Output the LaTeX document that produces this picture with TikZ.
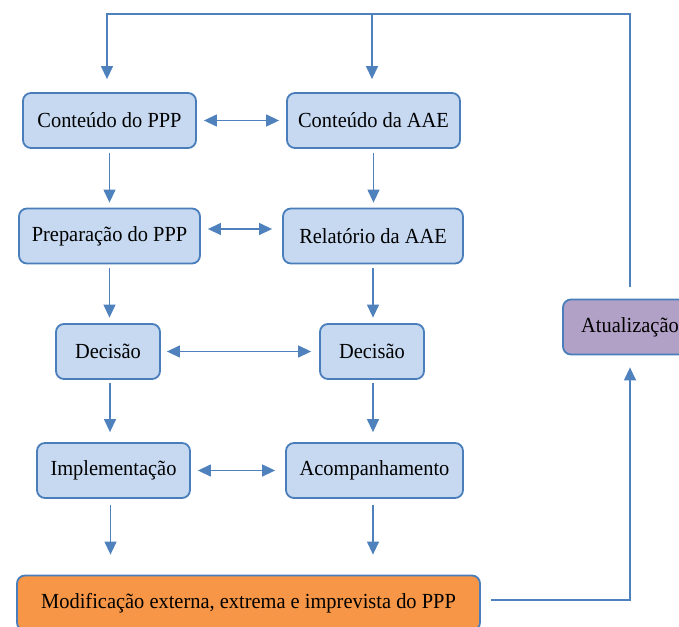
\documentclass[tikz,border=0pt]{standalone}
\usepackage{fontspec}
\setmainfont[FakeStretch=0.95]{Liberation Serif}
\usetikzlibrary{arrows.meta}

\definecolor{boxblue}{HTML}{C6D9F1}
\definecolor{edgeblue}{HTML}{4A7EBB}
\definecolor{arrowblue}{HTML}{4F81BD}
\definecolor{lilac}{HTML}{B2A1C7}
\definecolor{orangefill}{HTML}{F79646}

\tikzset{
  box/.style={draw=edgeblue, line width=1.8pt, rounded corners=8pt, fill=boxblue,
    minimum height=55pt, inner sep=0pt, font=\fontsize{21.5}{24}\selectfont},
  tip/.tip={Triangle[length=13pt,width=12pt]},
  link/.style={draw=arrowblue, line width=1.3pt},
  arr/.style={link, -tip},
  dbl/.style={link, tip-tip},
}

\begin{document}
\begin{tikzpicture}[x=1pt,y=1pt]
\useasboundingbox (0,0) rectangle (679,-626);
\clip (0,0) rectangle (679,-626);

% left column: project plan (PPP)
\node[box, minimum width=173pt] (c1) at (109.5,-120.5) {Conteúdo do PPP};
\node[box, minimum width=181pt] (p1) at (109.5,-236) {Preparação do PPP};
\node[box, minimum width=104pt] (d1) at (108,-351.5) {Decisão};
\node[box, minimum width=153pt] (i1) at (113.5,-470.5) {Implementação};

% right column: environmental assessment (AAE)
\node[box, minimum width=173pt] (c2) at (373.5,-120.5) {Conteúdo da AAE};
\node[box, minimum width=180pt] (p2) at (373,-236) {Relatório da AAE};
\node[box, minimum width=104pt] (d2) at (372,-351.5) {Decisão};
\node[box, minimum width=177pt] (i2) at (374.5,-470.5) {Acompanhamento};

% external change and update
\node[box, fill=orangefill, minimum width=463pt] (m) at (248.5,-603)
  {Modificação externa, extrema e imprevista do PPP};
\node[box, fill=lilac, minimum width=134pt] (a) at (630,-327) {Atualização};

% vertical flow, left column
\draw[arr] ([yshift=-4pt]c1.south) -- ([yshift=5pt]c1.south |- p1.north);
\draw[arr] ([yshift=-4pt]p1.south) -- ([yshift=5.5pt]p1.south |- d1.north);
\draw[arr] ([xshift=2pt,yshift=-3.5pt]d1.south) -- ([xshift=2pt,yshift=10pt]d1.south |- i1.north);
\draw[arr] ([xshift=-3pt,yshift=-6pt]i1.south) -- ([xshift=-3pt,yshift=20pt]i1.south |- m.north);

% vertical flow, right column
\draw[arr] ([yshift=-4pt]c2.south) -- ([yshift=5pt]c2.south |- p2.north);
\draw[arr] ([yshift=-4pt]p2.south) -- ([yshift=5.5pt]p2.south |- d2.north);
\draw[arr] ([xshift=1pt,yshift=-3.5pt]d2.south) -- ([xshift=1pt,yshift=10pt]d2.south |- i2.north);
\draw[arr] ([xshift=-1.5pt,yshift=-6pt]i2.south) -- ([xshift=-1.5pt,yshift=20pt]i2.south |- m.north);

% two-way links between the columns
\draw[dbl] ([xshift=7pt]c1.east) -- ([xshift=-7pt]c2.west);
\draw[dbl] ([xshift=7pt,yshift=7pt]p1.east) -- ([xshift=-10pt,yshift=7pt]p2.west);
\draw[dbl] ([xshift=6pt]d1.east) -- ([xshift=-8pt]d2.west);
\draw[dbl] ([xshift=7pt]i1.east) -- ([xshift=-10pt]i2.west);

% feedback loop: change -> update -> back to the contents
\draw[arr] ([xshift=10pt,yshift=3pt]m.east) -| ([yshift=-12pt]a.south);
\coordinate (tl) at ([xshift=-2.5pt]c1.north |- 0,-14);
\draw[arr] ([yshift=12pt]a.north) |- (tl) -- ([xshift=-2.5pt,yshift=13pt]c1.north);
\draw[arr] ([xshift=-1.5pt]c2.north |- tl) -- ([xshift=-1.5pt,yshift=13pt]c2.north);
\end{tikzpicture}
\end{document}
